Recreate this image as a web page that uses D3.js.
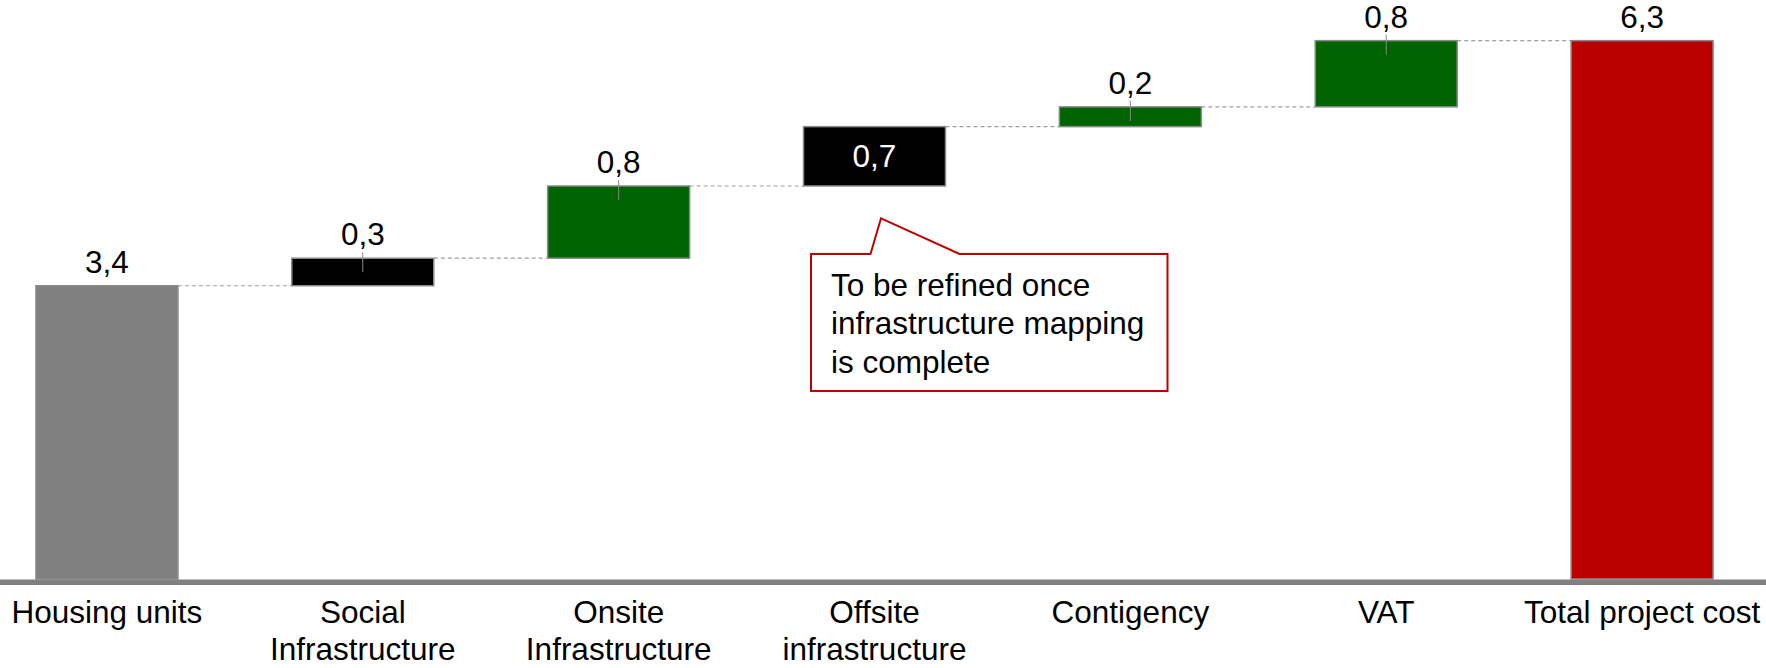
<!DOCTYPE html>
<html>
<head>
<meta charset="utf-8">
<script src="https://cdn.jsdelivr.net/npm/d3@7"></script>
<style>
    body { margin: 0; background: #fff; }
    text { font-family: 'Liberation Sans', Arial, sans-serif; }
</style>
</head>
<body>
<div id="chart"></div>
<script>

// chart data
var categories = ['Housing units', 'Social Infrastructure', 'Onsite Infrastructure', 'Offsite infrastructure', 'Contigency', 'VAT', 'Total project cost'];
var tickLabels = [['Housing units'], ['Social', 'Infrastructure'], ['Onsite', 'Infrastructure'], ['Offsite', 'infrastructure'], ['Contigency'], ['VAT'], ['Total project cost']];
var steps = [3.41, 0.32, 0.84, 0.69, 0.23, 0.77];
var noteLines = ['To be refined once', 'infrastructure mapping', 'is complete'];

// svg container
var width = 1766;
var height = 668;
var baseY = 579;
var pxPerUnit = 86;

var svg = d3.select('#chart').append('svg')
    .attr('width', width)
    .attr('height', height);

// build waterfall rows
var total = d3.sum(steps);
var rows = [];
var running = 0;
steps.forEach(function (v, i) {
    var start = i === 0 ? 0 : running;
    running = start + v;
    rows.push({ name: categories[i], value: v, start: start, end: running, kind: i === 0 ? 'base' : 'step' });
});
rows.push({ name: categories[6], value: total, start: 0, end: total, kind: 'total' });

// scales
var xScale = d3.scaleBand()
    .domain(categories)
    .range([-21, 1770])
    .paddingInner(0.445)
    .paddingOuter(0.2225);

var yScale = d3.scaleLinear()
    .domain([0, 6.7])
    .range([baseY, baseY - 6.7 * pxPerUnit]);

var color = d3.scaleOrdinal()
    .domain(categories)
    .range(['#808080', '#000000', '#006400', '#000000', '#006400', '#006400', '#bb0000']);

var fmt = d3.formatLocale({ decimal: ',', thousands: '.', grouping: [3], currency: ['', ''] }).format('.1f');
var bw = xScale.bandwidth();
var insideLabel = 'Offsite infrastructure';

// connectors between bars
svg.selectAll('.connector')
    .data(rows.slice(0, -1))
    .enter()
    .append('line')
    .attr('x1', d => xScale(d.name) + bw)
    .attr('x2', (d, i) => xScale(rows[i + 1].name))
    .attr('y1', d => yScale(d.end))
    .attr('y2', d => yScale(d.end))
    .attr('stroke', '#a0a0a0')
    .attr('stroke-width', 1.2)
    .attr('stroke-dasharray', '4,3');

// bars
svg.selectAll('.bar')
    .data(rows)
    .enter()
    .append('rect')
    .attr('x', d => xScale(d.name))
    .attr('y', d => yScale(Math.max(d.start, d.end)))
    .attr('width', bw)
    .attr('height', d => Math.abs(yScale(d.start) - yScale(d.end)))
    .attr('fill', d => color(d.name))
    .attr('stroke', '#8a8a8a')
    .attr('stroke-width', 1.5);

// small leader ticks on step bars
svg.selectAll('.leader')
    .data(rows.filter(d => d.kind === 'step' && d.name !== insideLabel))
    .enter()
    .append('line')
    .attr('x1', d => xScale(d.name) + bw / 2)
    .attr('x2', d => xScale(d.name) + bw / 2)
    .attr('y1', d => yScale(d.end) - 6)
    .attr('y2', d => yScale(d.end) + 14)
    .attr('stroke', '#8a8a8a')
    .attr('stroke-width', 1);

// value labels
svg.selectAll('.value')
    .data(rows)
    .enter()
    .append('text')
    .attr('x', d => xScale(d.name) + bw / 2)
    .attr('y', function (d) {
        if (d.name === insideLabel) return (yScale(d.start) + yScale(d.end)) / 2 + 11;
        return yScale(d.end) - 13;
    })
    .attr('text-anchor', 'middle')
    .style('font-size', '31.5px')
    .style('fill', d => d.name === insideLabel ? '#fff' : '#000')
    .text(d => fmt(d.value));

// x axis
var xAxis = d3.axisBottom(xScale).tickSize(0).tickSizeOuter(0);
var axisG = svg.append('g')
    .attr('transform', `translate(0, ${baseY})`)
    .call(xAxis);

axisG.select('.domain')
    .attr('stroke', '#808080')
    .attr('stroke-width', 5.5)
    .attr('transform', 'translate(0, 2.75)');

axisG.selectAll('.tick text')
    .attr('y', null)
    .attr('dy', null)
    .style('font-size', '31.5px')
    .style('font-family', "'Liberation Sans', Arial, sans-serif")
    .attr('fill', '#000')
    .text('')
    .each(function (d, i) {
        var t = d3.select(this);
        tickLabels[i].forEach(function (line, j) {
            t.append('tspan')
                .attr('x', 0)
                .attr('y', 44 + j * 37)
                .text(line);
        });
    });

// callout note under the offsite bar
var offsite = rows[3];
var noteX = xScale(offsite.name);
var noteTop = yScale(offsite.start) + 68;
var noteLeft = noteX + 7.5;
var noteRight = noteX + 364;
var noteBottom = noteTop + 137;

var notePath = d3.path();
notePath.moveTo(noteLeft, noteTop);
notePath.lineTo(noteX + 67, noteTop);
notePath.lineTo(noteX + 77.5, noteTop - 35.7);
notePath.lineTo(noteX + 156, noteTop);
notePath.lineTo(noteRight, noteTop);
notePath.lineTo(noteRight, noteBottom);
notePath.lineTo(noteLeft, noteBottom);
notePath.closePath();

svg.append('path')
    .attr('d', notePath.toString())
    .attr('fill', '#fff')
    .attr('stroke', '#c00000')
    .attr('stroke-width', 2);

svg.selectAll('.note')
    .data(noteLines)
    .enter()
    .append('text')
    .attr('x', noteLeft + 20)
    .attr('y', (d, i) => noteTop + 42 + i * 38.5)
    .style('font-size', '31.5px')
    .style('fill', '#000')
    .text(d => d);

</script>
</body>
</html>
